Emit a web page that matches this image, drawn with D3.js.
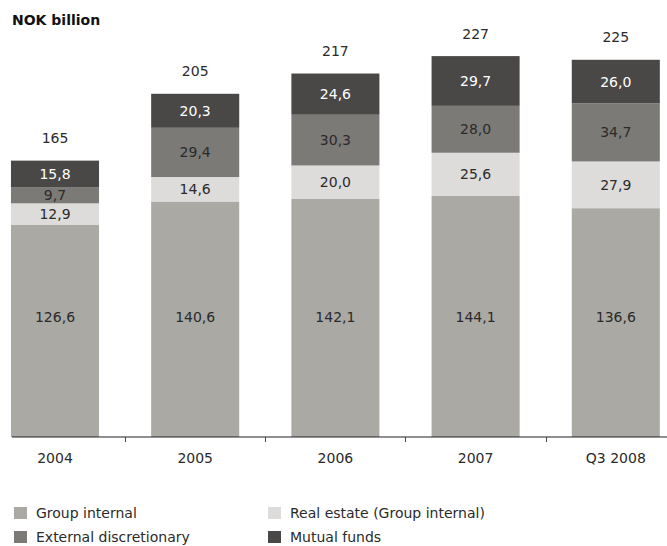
<!DOCTYPE html>
<html>
<head>
<meta charset="utf-8">
<script src="https://cdn.jsdelivr.net/npm/d3@7"></script>
<style>
  html, body { margin: 0; padding: 0; background: #fff; }
  svg { display: block; font-family: "DejaVu Sans", sans-serif; }
</style>
</head>
<body>
<svg id="chart" width="667" height="546"></svg>
<script>
// Assets under management, NOK billion
const categories = ["2004", "2005", "2006", "2007", "Q3 2008"];
const groupInternal = [126.6, 140.6, 142.1, 144.1, 136.6];
const realEstate = [12.9, 14.6, 20.0, 25.6, 27.9];
const externalDiscretionary = [9.7, 29.4, 30.3, 28.0, 34.7];
const mutualFunds = [15.8, 20.3, 24.6, 29.7, 26.0];
const totals = [165, 205, 217, 227, 225];

const seriesKeys = ["groupInternal", "realEstate", "externalDiscretionary", "mutualFunds"];
const seriesNames = ["Group internal", "Real estate (Group internal)", "External discretionary", "Mutual funds"];
const seriesColors = ["#aaa9a4", "#dddcda", "#7b7a77", "#4a4846"];
const labelColors = ["#2a2a2a", "#2a2a2a", "#2a2a2a", "#ffffff"];

const rows = categories.map((c, i) => ({
  category: c,
  groupInternal: groupInternal[i],
  realEstate: realEstate[i],
  externalDiscretionary: externalDiscretionary[i],
  mutualFunds: mutualFunds[i],
  total: totals[i]
}));

const svg = d3.select("#chart");
const baseY = 437;

const x = d3.scaleBand()
  .domain(categories)
  .range([-15.1, 685.9])
  .paddingInner(0.372)
  .paddingOuter(0.186);

const y = d3.scaleLinear()
  .domain([0, 227])
  .range([baseY, baseY - 227 * 1.675]);

const stacked = d3.stack().keys(seriesKeys)(rows);

// Title
svg.append("text")
  .attr("x", 12).attr("y", 25)
  .attr("font-size", 14).attr("font-weight", "bold")
  .attr("fill", "#111")
  .text("NOK billion");

// Stacked bars
const layers = svg.append("g").selectAll("g")
  .data(stacked).join("g")
  .attr("fill", (d, i) => seriesColors[i]);

layers.selectAll("rect")
  .data(d => d).join("rect")
  .attr("x", d => x(d.data.category))
  .attr("width", x.bandwidth())
  .attr("y", d => y(d[1]))
  .attr("height", d => y(d[0]) - y(d[1]));

// Segment value labels; the bottom series' labels share one common line
const baseLabelLevel = 71.5;
stacked.forEach((layer, i) => {
  svg.append("g").selectAll("text")
    .data(layer).join("text")
    .attr("x", d => x(d.data.category) + x.bandwidth() / 2)
    .attr("y", d => (i === 0 ? y(baseLabelLevel) : (y(d[0]) + y(d[1])) / 2) + 5)
    .attr("text-anchor", "middle")
    .attr("font-size", 14)
    .attr("fill", labelColors[i])
    .text(d => d3.format(".1f")(d[1] - d[0]).replace(".", ","));
});

// Totals above the bars
svg.append("g").selectAll("text")
  .data(rows).join("text")
  .attr("x", d => x(d.category) + x.bandwidth() / 2)
  .attr("y", d => y(d.total) - 18)
  .attr("text-anchor", "middle")
  .attr("font-size", 14)
  .attr("fill", "#2a2a2a")
  .text(d => d.total);

// Category axis
const axis = svg.append("g").attr("transform", `translate(0,${baseY})`);
axis.append("line")
  .attr("x1", 12).attr("x2", 667)
  .attr("stroke", "#222").attr("stroke-width", 1.2);
const step = x.step();
axis.selectAll("line.tick")
  .data(categories.slice(0, -1)).join("line")
  .attr("class", "tick")
  .attr("x1", d => Math.round(x(d) + x.bandwidth() + (step - x.bandwidth()) / 2) + 0.5)
  .attr("x2", d => Math.round(x(d) + x.bandwidth() + (step - x.bandwidth()) / 2) + 0.5)
  .attr("y1", 0).attr("y2", 5)
  .attr("stroke", "#444").attr("stroke-width", 1);
axis.selectAll("text")
  .data(categories).join("text")
  .attr("x", d => x(d) + x.bandwidth() / 2)
  .attr("y", 26)
  .attr("text-anchor", "middle")
  .attr("font-size", 14)
  .attr("fill", "#2a2a2a")
  .text(d => d);

// Legend
const legendItems = [
  { i: 0, col: 0, row: 0 },
  { i: 1, col: 1, row: 0 },
  { i: 2, col: 0, row: 1 },
  { i: 3, col: 1, row: 1 }
];
const legend = svg.append("g").selectAll("g")
  .data(legendItems).join("g")
  .attr("transform", d => `translate(${d.col ? 268 : 14},${d.row ? 531 : 507})`);
legend.append("rect")
  .attr("width", 13).attr("height", 12)
  .attr("fill", d => seriesColors[d.i]);
legend.append("text")
  .attr("x", 22).attr("y", 11)
  .attr("font-size", 14)
  .attr("fill", "#2a2a2a")
  .text(d => seriesNames[d.i]);
</script>
</body>
</html>
